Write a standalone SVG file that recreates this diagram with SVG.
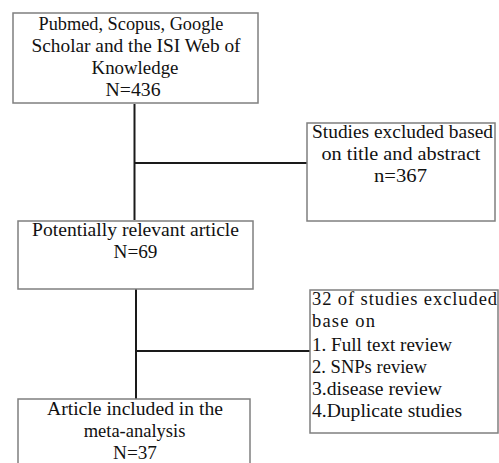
<svg xmlns="http://www.w3.org/2000/svg" width="499" height="463" viewBox="0 0 499 463">
<style>
.box{fill:#fff;stroke:#7f7f7f;stroke-width:1.5}
.conn{stroke:#1a1a1a;stroke-width:2;fill:none}
text{font-family:"Liberation Serif","Times New Roman",serif;font-size:18.5px;fill:#111}
.c{text-anchor:middle}
</style>
<rect width="499" height="463" fill="#fff"/>
<g id="connectors">
<line class="conn" x1="134.5" y1="104" x2="134.5" y2="220"/>
<line class="conn" x1="134.5" y1="163" x2="307" y2="163"/>
<line class="conn" x1="136" y1="289" x2="136" y2="399"/>
<line class="conn" x1="136" y1="351" x2="310" y2="351"/>
</g>
<g id="n1">
<rect class="box" x="13" y="13" width="245" height="90"/>
<text class="c" x="131" y="30" textLength="185" lengthAdjust="spacingAndGlyphs">Pubmed, Scopus, Google</text>
<text class="c" x="136" y="52" textLength="209" lengthAdjust="spacingAndGlyphs">Scholar and the ISI Web of</text>
<text class="c" x="135" y="74" textLength="87" lengthAdjust="spacingAndGlyphs">Knowledge</text>
<text class="c" x="133" y="96" textLength="55" lengthAdjust="spacingAndGlyphs">N=436</text>
</g>
<g id="n2">
<rect class="box" x="307" y="123" width="188" height="98"/>
<text class="c" x="402.5" y="138" textLength="181" lengthAdjust="spacingAndGlyphs">Studies excluded based</text>
<text class="c" x="401" y="160" textLength="159" lengthAdjust="spacingAndGlyphs">on title and abstract</text>
<text class="c" x="400.5" y="182" textLength="53" lengthAdjust="spacingAndGlyphs">n=367</text>
</g>
<g id="n3">
<rect class="box" x="18" y="221" width="235" height="68"/>
<text class="c" x="135.5" y="236" textLength="207" lengthAdjust="spacingAndGlyphs">Potentially relevant article</text>
<text class="c" x="135.5" y="258" textLength="44" lengthAdjust="spacingAndGlyphs">N=69</text>
</g>
<g id="n4">
<rect class="box" x="310" y="290" width="188" height="143"/>
<text x="312" y="305" textLength="185" lengthAdjust="spacing">32 of studies excluded</text>
<text x="312" y="327" textLength="63" lengthAdjust="spacing">base on</text>
<text x="312" y="351" textLength="140" lengthAdjust="spacingAndGlyphs">1. Full text review</text>
<text x="312" y="373" textLength="115" lengthAdjust="spacingAndGlyphs">2. SNPs review</text>
<text x="312" y="395" textLength="130" lengthAdjust="spacingAndGlyphs">3.disease review</text>
<text x="312" y="417" textLength="150" lengthAdjust="spacingAndGlyphs">4.Duplicate studies</text>
</g>
<g id="n5">
<rect class="box" x="18" y="399" width="232" height="70"/>
<text class="c" x="135" y="415" textLength="176" lengthAdjust="spacingAndGlyphs">Article included in the</text>
<text class="c" x="134.5" y="437">meta-analysis</text>
<text class="c" x="135" y="459" textLength="44" lengthAdjust="spacingAndGlyphs">N=37</text>
</g>
</svg>
